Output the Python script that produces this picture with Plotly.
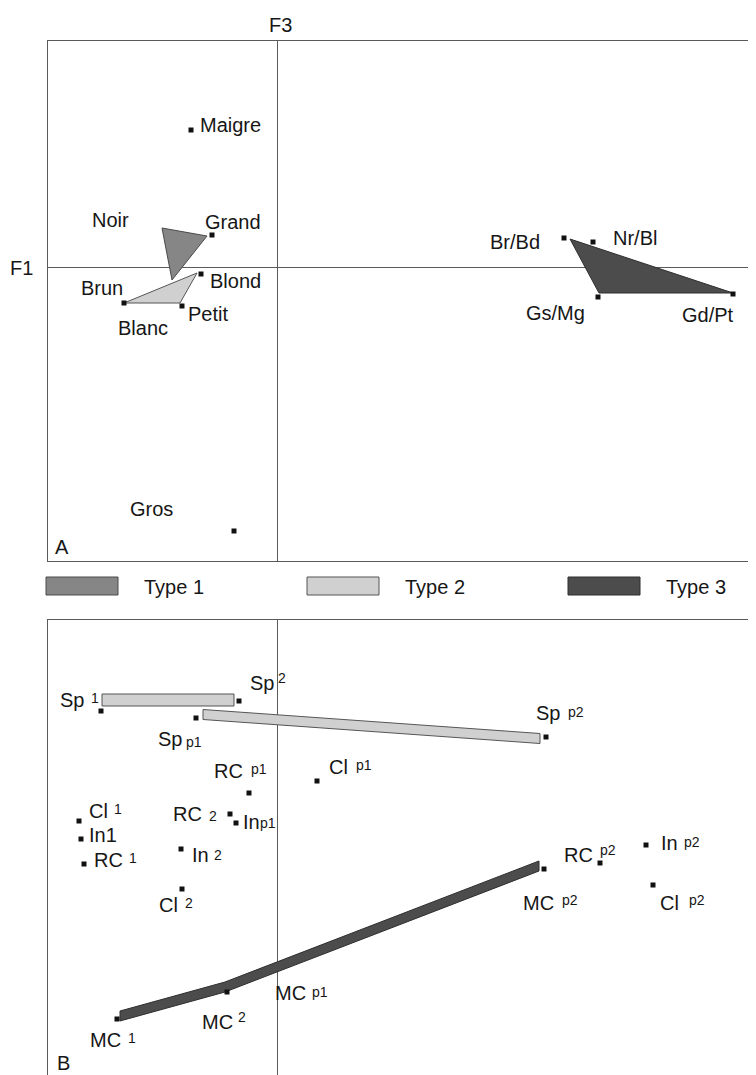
import plotly.graph_objects as go

# ---------------- DATA ----------------
# Panel A : F3 (horizontal) x F1 (vertical) factor scores
a_labels = ["Maigre", "Grand", "Noir", "Blond", "Petit", "Brun", "Blanc", "Gros",
            "Br/Bd", "Nr/Bl", "Gs/Mg", "Gd/Pt"]
a_f3 = [-0.86, -0.65, -1.15, -0.76, -0.95, -1.53, -1.53, -0.43, 2.87, 3.16, 3.21, 4.56]
a_f1 = [1.37, 0.32, 0.39, -0.07, -0.39, -0.36, -0.36, -2.64, 0.29, 0.25, -0.30, -0.27]
a_marked = [True, True, False, True, True, True, False, True, True, True, True, True]

# triangles (vertices) panel A
type1_f3 = [-1.15, -0.70, -1.05]
type1_f1 = [0.39, 0.31, -0.13]
type2_f3 = [-1.53, -0.80, -0.97]
type2_f1 = [-0.36, -0.06, -0.36]
type3_f3 = [2.93, 4.56, 3.22]
type3_f1 = [0.28, -0.26, -0.26]

# Panel B
b_main = ["Sp", "Sp", "Sp", "Sp", "RC", "Cl", "Cl", "In1", "RC", "RC", "In", "In", "Cl",
          "RC", "In", "Cl", "MC", "MC", "MC", "MC"]
b_index = ["1", "2", "p1", "p2", "p1", "p1", "1", "", "1", "2", "p1", "2", "2",
           "p2", "p2", "p2", "p2", "1", "2", "p1"]
b_x = [-1.76, -0.38, -0.81, 2.69, -0.28, 0.40, -1.98, -1.96, -1.93, -0.47, -0.41, -0.96, -0.95,
       3.23, 3.69, 3.76, 2.67, -1.60, -0.50, -0.52]
b_y = [1.19, 1.29, 1.12, 0.93, 0.37, 0.49, 0.09, -0.09, -0.34, 0.16, 0.07, -0.19, -0.59,
       -0.33, -0.15, -0.55, -0.39, -1.89, -1.62, -1.55]
b_marked = [True] * 19 + [False]

# bars (centre lines) panel B
bar_sp12_x = [-1.75, -0.43]
bar_sp12_y = [1.30, 1.30]
bar_spp_x = [-0.74, 2.63]
bar_spp_y = [1.155, 0.915]
bar_mc_x = [-1.57, -0.52, 2.62]
bar_mc_y = [-1.86, -1.57, -0.36]

legend_names = ["Type 1", "Type 2", "Type 3"]

# ---------------- STYLE ----------------
PAGE_W, PAGE_H = 756, 1075
OFF = 8                       # default body margin of the html page
W, H = PAGE_W - OFF, PAGE_H - OFF
FONT = "Liberation Sans, Arial, Helvetica, sans-serif"
FS = 20
FS_IDX = 14
TXT = "#161616"
LINE = "#5a5a5a"
FILL = {"Type 1": "#868686", "Type 2": "#d0d0d0", "Type 3": "#4c4c4c"}
EDGE = {"Type 1": "#4a4a4a", "Type 2": "#555555", "Type 3": "#2e2e2e"}

# label offsets (pixels: dx right, dy down)
a_off = [(39, -5), (21, -13), (-52, -8), (34, 7), (26, 8), (-22, -15), (19, 25), (-83, -22),
         (-49, 4), (42, -4), (-43, 16), (-25, 21)]
b_off_main = [(-29, -11), (23, -18), (-26, 21), (2, -24), (-21, -22), (21, -14), (19, -10),
              (22, -4), (24, -4), (-43, 0), (15, -1), (19, 6), (-14, 16), (-22, -8), (23, -2),
              (16, 18), (-6, 34), (-12, 21), (-10, 30), (65, 8)]
b_off_idx = [(-6, -13), (43, -23), (-2, 24), (30, -25), (10, -24), (47, -16), (39, -12),
             (0, 0), (49, -6), (-17, 2), (32, 0), (37, 6), (7, 14), (8, -13), (46, -3),
             (44, 15), (26, 31), (15, 19), (15, 25), (95, 7)]


def px(x):
    return (x - OFF) / W


def py(y):
    return 1 - (y - OFF) / H


fig = go.Figure()


def poly(xs, ys, kind, xa, ya):
    fig.add_trace(go.Scatter(x=list(xs) + [xs[0]], y=list(ys) + [ys[0]], mode="lines",
                             fill="toself", fillcolor=FILL[kind],
                             line=dict(color=EDGE[kind], width=1),
                             xaxis=xa, yaxis=ya, hoverinfo="skip", showlegend=False))


def bar(xs, ys, half, kind):
    top = [y + half for y in ys]
    bot = [y - half for y in ys]
    px_ = list(xs) + list(reversed(xs))
    py_ = top + list(reversed(bot))
    poly(px_, py_, kind, "x2", "y2")


# panel A triangles
poly(type1_f3, type1_f1, "Type 1", "x", "y")
poly(type2_f3, type2_f1, "Type 2", "x", "y")
poly(type3_f3, type3_f1, "Type 3", "x", "y")

# panel B bars
bar(bar_sp12_x, bar_sp12_y, 0.06, "Type 2")
bar(bar_spp_x, bar_spp_y, 0.05, "Type 2")
bar(bar_mc_x, bar_mc_y, 0.05, "Type 3")

# markers
fig.add_trace(go.Scatter(x=[x for x, m in zip(a_f3, a_marked) if m],
                         y=[y for y, m in zip(a_f1, a_marked) if m],
                         mode="markers", marker=dict(symbol="square", size=5, color="#111"),
                         xaxis="x", yaxis="y", showlegend=False, hoverinfo="skip"))
fig.add_trace(go.Scatter(x=[x for x, m in zip(b_x, b_marked) if m],
                         y=[y for y, m in zip(b_y, b_marked) if m],
                         mode="markers", marker=dict(symbol="square", size=5, color="#111"),
                         xaxis="x2", yaxis="y2", showlegend=False, hoverinfo="skip"))

ann = []
for lab, x, y, (dx, dy) in zip(a_labels, a_f3, a_f1, a_off):
    ann.append(dict(x=x, y=y, xref="x", yref="y", text=lab, showarrow=False,
                    xshift=dx, yshift=-dy, xanchor="center", yanchor="middle",
                    font=dict(family=FONT, size=FS, color=TXT)))
for m, i, x, y, (dx, dy), (ix, iy) in zip(b_main, b_index, b_x, b_y, b_off_main, b_off_idx):
    ann.append(dict(x=x, y=y, xref="x2", yref="y2", text=m, showarrow=False,
                    xshift=dx, yshift=-dy, xanchor="center", yanchor="middle",
                    font=dict(family=FONT, size=FS, color=TXT)))
    if i:
        ann.append(dict(x=x, y=y, xref="x2", yref="y2", text=i, showarrow=False,
                        xshift=ix, yshift=-iy, xanchor="center", yanchor="middle",
                        font=dict(family=FONT, size=FS_IDX, color=TXT)))

# panel letters and axis names
for t, x, y in [("A", 62, 547), ("B", 63, 1063), ("F3", 280, 25), ("F1", 22, 268)]:
    ann.append(dict(x=px(x), y=py(y), xref="paper", yref="paper", text=t, showarrow=False,
                    xanchor="center", yanchor="middle",
                    font=dict(family=FONT, size=FS, color=TXT)))

# legend
shapes = []
for name, x0 in zip(legend_names, [46, 307, 568]):
    shapes.append(dict(type="rect", xref="paper", yref="paper",
                       x0=px(x0), x1=px(x0 + 72), y0=py(595), y1=py(577),
                       fillcolor=FILL[name], line=dict(color=EDGE[name], width=1)))
    ann.append(dict(x=px(x0 + 96), y=py(587), xref="paper", yref="paper", text=name,
                    showarrow=False, xanchor="left", yanchor="middle",
                    font=dict(family=FONT, size=FS, color=TXT)))

axis_common = dict(showgrid=False, showticklabels=False, ticks="", showline=True,
                   linecolor=LINE, linewidth=1, zerolinecolor=LINE, zerolinewidth=1)

fig.update_layout(
    width=W, height=H, margin=dict(l=0, r=0, t=0, b=0),
    paper_bgcolor="white", plot_bgcolor="white", showlegend=False,
    xaxis=dict(domain=[px(48), 1], range=[-2.29, 4.79], mirror=True, zeroline=True,
               anchor="y", **axis_common),
    yaxis=dict(domain=[py(561), py(41)], range=[-2.94, 2.26], zeroline=True,
               anchor="x", **axis_common),
    xaxis2=dict(domain=[px(48), 1], range=[-2.29, 4.79], side="top", zeroline=True,
                anchor="y2", **axis_common),
    yaxis2=dict(domain=[0, py(620)], range=[-2.45, 2.10], zeroline=False,
                anchor="x2", **axis_common),
    annotations=ann, shapes=shapes,
)

fig.write_html("out.html")
